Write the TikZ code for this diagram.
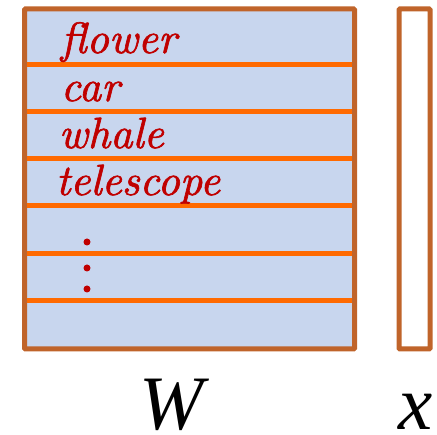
\documentclass[tikz,border=0pt]{standalone}
\usepackage{fontspec}
\newfontfamily\tms{Liberation Serif}
\newfontfamily\wordfont[FakeBold=1.5]{Latin Modern Roman}
\definecolor{cellfill}{HTML}{C8D6EE}
\definecolor{frame}{HTML}{C0642A}
\definecolor{rowline}{HTML}{FF6A00}
\definecolor{wordred}{HTML}{C00000}
\begin{document}
\begin{tikzpicture}[x=1pt,y=-1pt,
  framebox/.style={draw=frame,line width=5pt,rounded corners=1pt},
  rowsep/.style={draw=rowline,line width=5pt},
  word/.style={anchor=base west,text=wordred,inner sep=0pt,scale=4.37,font=\wordfont\itshape},
  vdot/.style={fill=wordred,circle,inner sep=0pt,minimum size=7pt},
  lbl/.style={anchor=base,inner sep=0pt,scale=7.7,font=\tms\itshape}]
\useasboundingbox (0,0) rectangle (437,435);
\node[framebox,fill=cellfill,minimum width=330pt,minimum height=340pt,inner sep=0pt] (W) at (189.5,179) {};
\node[framebox,fill=white,minimum width=31pt,minimum height=340pt,inner sep=0pt] (X) at (414.5,179) {};
\foreach \y in {65,112,159,206,254,301}{
  \draw[rowsep] (27,\y) -- (352,\y);
}
\node[word] (w1) at (60,53) {flower};
\node[word] (w2) at (60,101) {car};
\node[word] (w3) at (58,148) {whale};
\node[word] (w4) at (55,195) {telescope};
\node[vdot] (d1) at (87,242) {};
\node[vdot] (d2) at (87,268) {};
\node[vdot] (d3) at (87,289) {};
\node[lbl] (lw) at (172,430) {W};
\node[lbl] (lx) at (416,430) {x};
\end{tikzpicture}
\end{document}
